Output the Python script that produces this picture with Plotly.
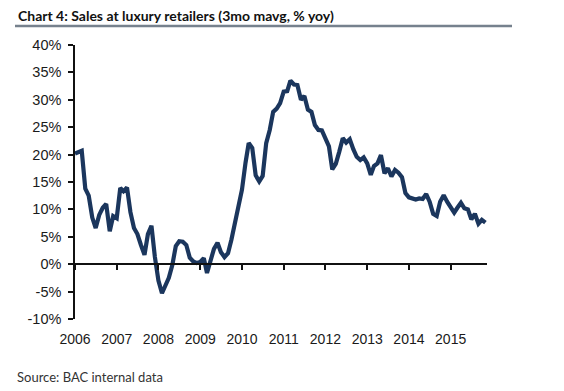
import pandas as pd
import plotly.graph_objects as go

# Monthly values, Jan 2006 onward (3mo mavg, % yoy)
sales_yoy = [
    20.2, 20.4, 20.7, 13.8, 12.5, 8.5, 6.6, 9.0, 10.3, 11.0, 6.0, 8.8,
    8.4, 13.9, 13.3, 14.0, 9.5, 6.6, 5.5, 3.5, 1.7, 5.5, 7.0, 1.3,
    -3.0, -5.3, -4.0, -2.5, -0.2, 3.3, 4.2, 4.1, 3.5, 1.2, 0.5, 0.2,
    0.4, 1.1, -1.6, 0.8, 2.8, 3.9, 2.2, 1.3, 2.0, 4.5, 7.5, 10.5,
    13.6, 18.5, 22.1, 21.2, 16.2, 15.1, 16.1, 22.1, 24.5, 27.8, 28.4, 29.4,
    31.5, 31.6, 33.5, 32.8, 32.7, 30.0, 30.7, 28.2, 27.8, 25.4, 24.5, 24.4,
    23.0, 21.5, 17.3, 18.3, 20.5, 23.0, 22.2, 22.8, 21.0, 19.6, 19.0, 19.5,
    18.4, 16.3, 17.9, 18.4, 19.9, 16.6, 17.5, 16.0, 17.2, 16.7, 15.9, 13.0,
    12.2, 11.9, 11.8, 12.0, 11.9, 12.8, 11.4, 9.2, 8.8, 11.4, 12.6, 11.4,
    10.4, 9.4, 10.3, 11.2, 10.2, 10.0, 8.2, 9.2, 7.4, 8.1, 7.6,
]
start_month = "2006-01-01"
months = pd.date_range(start_month, periods=len(sales_yoy), freq="MS")

y_ticks = [-10, -5, 0, 5, 10, 15, 20, 25, 30, 35, 40]
y_ticktext = [f"{v}%" for v in y_ticks]
x_range = ["2006-01-01", "2015-11-15"]
y_range = [-10, 40]

title_text = "Chart 4: Sales at luxury retailers (3mo mavg, % yoy)"
source_text = "Source: BAC internal data"

LINE = "#1b365d"
XFONT = dict(family="Liberation Sans", size=14, color="#1a1a1a")
YFONT = dict(family="Liberation Sans", size=14.5, color="#1a1a1a")
NARROW = "Lato"

# The page body has an 8px default margin, so the figure is sized to fit inside the window.
OFF = 8
W, H = 564 - OFF, 391 - OFF

fig = go.Figure()
fig.add_trace(go.Scatter(
    x=months, y=sales_yoy, mode="lines",
    line=dict(color=LINE, width=4.2), hoverinfo="skip", showlegend=False,
))
# invisible copy so the zero-level axis (x2) is drawn
fig.add_trace(go.Scatter(
    x=months, y=sales_yoy, mode="lines", xaxis="x2",
    line=dict(color="rgba(0,0,0,0)", width=0), hoverinfo="skip", showlegend=False,
))

fig.update_layout(
    width=W, height=H,
    margin=dict(l=75 - OFF, r=564 - 487, t=45 - OFF, b=391 - 319, autoexpand=False),
    paper_bgcolor="white", plot_bgcolor="white",
    xaxis=dict(
        range=x_range, showline=False, showgrid=False, zeroline=False,
        tick0="2006-01-01", dtick="M12", tickformat="%Y", ticks="",
        tickfont=XFONT, ticklabelstandoff=10,
    ),
    xaxis2=dict(
        range=x_range, overlaying="x", anchor="free",
        position=(0 - y_range[0]) / (y_range[1] - y_range[0]),
        side="bottom", showline=True, linecolor="#111", linewidth=1.5,
        showgrid=False, zeroline=False, ticks="outside", ticklen=5, tickwidth=1.5, tickcolor="#111",
        tick0="2006-01-01", dtick="M12", showticklabels=False,
    ),
    yaxis=dict(
        range=y_range, tickmode="array", tickvals=y_ticks, ticktext=y_ticktext,
        showgrid=False, zeroline=False,
        showline=True, linecolor="#111", linewidth=1.5, ticks="outside", ticklen=5,
        tickwidth=1.5, tickcolor="#111", tickfont=YFONT, ticklabelstandoff=4,
    ),
    title=dict(
        text="<b>" + title_text + "</b>", x=(18 - OFF) / W, xanchor="left",
        y=1 - (16 - OFF) / H, yanchor="middle",
        font=dict(family=NARROW, size=14, color="#111"),
    ),
    showlegend=False,
)

fig.add_shape(type="line", xref="paper", yref="paper",
              x0=(15 - 75) / 412, x1=(512 - 75) / 412,
              y0=(319 - 26) / 274, y1=(319 - 26) / 274,
              line=dict(color="#76818d", width=2.5))

fig.add_annotation(text=source_text, xref="paper", yref="paper",
                   x=(15 - 75) / 412, y=(319 - 377) / 274, xanchor="left", yanchor="middle",
                   showarrow=False, font=dict(family=NARROW, size=13, color="#333"))

fig.write_html("out.html")
